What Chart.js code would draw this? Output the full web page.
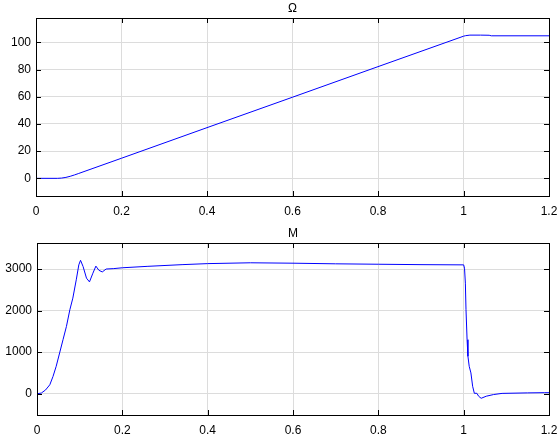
<!DOCTYPE html>
<html>
<head>
<meta charset="utf-8">
<script src="https://cdn.jsdelivr.net/npm/chart.js@4"></script>
<style>
  body { margin: 0; background: #fff; }
  #wrap { position: relative; width: 559px; height: 437px; }
  canvas { position: absolute; left: 0; }
</style>
</head>
<body>
<div id="wrap">
  <canvas id="omegaChart" width="559" height="220" style="top:0"></canvas>
  <canvas id="torqueChart" width="559" height="217" style="top:220px"></canvas>
</div>
<script>
// time axis
const xTicks = [0, 0.2, 0.4, 0.6, 0.8, 1.0, 1.2];

// Ω (speed)
const omegaTime = [0, 0.05, 0.06, 0.07, 0.08, 0.09, 0.1, 0.2, 0.4, 0.6, 0.8, 1.0, 1.005, 1.015, 1.04, 1.06, 1.065, 1.2];
const omegaValues = [0, 0, 0.2, 0.7, 1.5, 2.5, 3.6, 14.8, 37.3, 59.7, 82.2, 104.6, 105.0, 105.4, 105.4, 105.3, 104.9, 104.9];
const omegaTicks = [0, 20, 40, 60, 80, 100];

// M (torque)
const torqueTime = [0, 0.01, 0.02, 0.03, 0.0375, 0.045, 0.053, 0.061, 0.069, 0.077, 0.084, 0.092, 0.098, 0.102, 0.108, 0.116, 0.123, 0.131, 0.138, 0.145, 0.153, 0.162, 0.18, 0.2, 0.26, 0.34, 0.4, 0.5, 0.6, 0.7, 0.8, 0.9, 1.0, 1.002, 1.004, 1.0055, 1.008, 1.01, 1.013, 1.017, 1.021, 1.025, 1.031, 1.035, 1.041, 1.053, 1.07, 1.09, 1.15, 1.19, 1.2];
const torqueValues = [0, 15, 90, 215, 415, 660, 980, 1300, 1620, 2020, 2300, 2740, 3100, 3210, 3060, 2780, 2690, 2900, 3070, 2970, 2930, 3000, 3010, 3030, 3065, 3105, 3130, 3150, 3140, 3125, 3115, 3105, 3100, 3020, 2660, 2020, 1300, 900, 660, 500, 180, 10, 10, -60, -110, -60, -20, 8, 20, 25, 25];
const torqueTicks = [0, 1000, 2000, 3000];

const FONT = { family: "'Liberation Sans', Arial, sans-serif", size: 12 };

function fmt(v) {
    return String(parseFloat(v.toFixed(2)));
}

// box around the plot, inward tick marks and the title
const scopeFrame = {
    id: 'scopeFrame',
    afterDraw(chart, args, opts) {
        const { ctx, chartArea: a, scales } = chart;
        ctx.save();
        ctx.strokeStyle = '#000';
        ctx.lineWidth = 1;
        ctx.beginPath();
        scales.x.ticks.forEach(t => {
            const px = Math.round(scales.x.getPixelForValue(t.value)) + 0.5;
            ctx.moveTo(px, a.top); ctx.lineTo(px, a.top + 5);
            ctx.moveTo(px, a.bottom); ctx.lineTo(px, a.bottom - 5);
        });
        scales.y.ticks.forEach(t => {
            const py = Math.round(scales.y.getPixelForValue(t.value)) + 0.5;
            ctx.moveTo(a.left, py); ctx.lineTo(a.left + 5, py);
            ctx.moveTo(a.right, py); ctx.lineTo(a.right - 5, py);
        });
        ctx.stroke();
        ctx.strokeRect(Math.round(a.left) + 0.5, Math.round(a.top) + 0.5,
            Math.round(a.right - a.left), Math.round(a.bottom - a.top));
        ctx.fillStyle = '#000';
        ctx.font = FONT.size + 'px ' + FONT.family;
        ctx.textAlign = 'center';
        ctx.textBaseline = 'middle';
        ctx.fillText(opts.text, (a.left + a.right) / 2, opts.y);
        ctx.restore();
    }
};

function makeChart(id, time, values, yTicks, yMin, yMax, title, box) {
    return new Chart(document.getElementById(id), {
        type: 'line',
        data: {
            datasets: [{
                data: time.map((t, i) => ({ x: t, y: values[i] })),
                borderColor: '#0000ff',
                borderWidth: 1,
                pointRadius: 0,
                tension: 0,
                fill: false
            }]
        },
        options: {
            responsive: false,
            animation: false,
            devicePixelRatio: 1,
            layout: { padding: { top: box.top, right: 10, left: 0, bottom: 0 } },
            plugins: {
                legend: { display: false },
                tooltip: { enabled: false },
                scopeFrame: { text: title, y: box.titleY }
            },
            scales: {
                x: {
                    type: 'linear',
                    min: 0,
                    max: 1.2,
                    afterBuildTicks: axis => { axis.ticks = xTicks.map(v => ({ value: v })); },
                    afterFit: axis => {
                        axis.height = box.xHeight;
                        axis.paddingLeft = 0;
                        axis.paddingRight = 0;
                    },
                    grid: { color: '#dcdcdc', drawTicks: false },
                    border: { display: false },
                    ticks: { color: '#000', font: FONT, padding: 8, maxRotation: 0, callback: v => fmt(v) }
                },
                y: {
                    type: 'linear',
                    min: yMin,
                    max: yMax,
                    afterBuildTicks: axis => { axis.ticks = yTicks.map(v => ({ value: v })); },
                    afterFit: axis => {
                        axis.width = box.yWidth;
                        axis.paddingTop = 0;
                        axis.paddingBottom = 0;
                    },
                    grid: { color: '#dcdcdc', drawTicks: false },
                    border: { display: false },
                    ticks: { color: '#000', font: FONT, padding: 5, callback: v => fmt(v) }
                }
            }
        },
        plugins: [scopeFrame]
    });
}

makeChart('omegaChart', omegaTime, omegaValues, omegaTicks, -13, 118, 'Ω',
    { top: 18, xHeight: 24, yWidth: 36, titleY: 9 });
makeChart('torqueChart', torqueTime, torqueValues, torqueTicks, -512, 3626, 'M',
    { top: 23, xHeight: 22, yWidth: 37, titleY: 14 });
</script>
</body>
</html>
